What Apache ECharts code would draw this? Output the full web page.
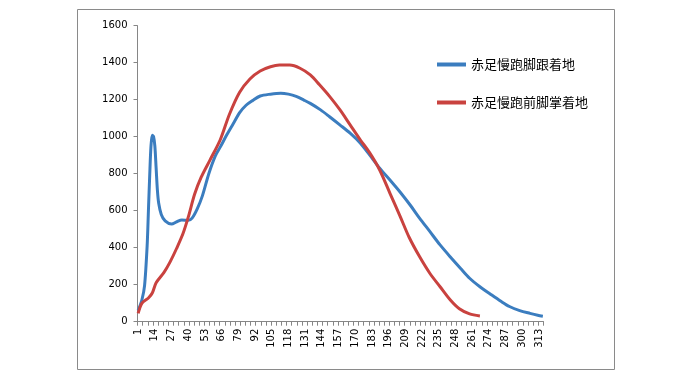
<!DOCTYPE html>
<html>
<head>
<meta charset="utf-8">
<script src="https://cdn.jsdelivr.net/npm/echarts@6/dist/echarts.min.js"></script>
<style>
html,body{margin:0;padding:0;background:#fff;}
#c{width:685px;height:380px;}
</style>
</head>
<body>
<div id="c"></div>
<script>
// Categories 1..316 (sample index on the x axis)
var categoryCount = 316;
var categories = [];
for (var i = 1; i <= categoryCount; i++) categories.push(String(i));

var seriesNames = ['赤足慢跑脚跟着地', '赤足慢跑前脚掌着地'];

// Heel strike: [category, value]
var heelX = [1, 4, 6, 8, 9, 10, 11, 12, 13, 14, 15, 16, 17, 19, 22, 27, 31, 35, 40, 43, 47, 51, 56, 61, 65, 70, 75, 80, 85, 90, 96, 104, 112, 118, 124, 130, 135, 143, 150, 158, 166, 174, 181, 189, 197, 205, 213, 220, 228, 236, 244, 252, 259, 267, 275, 283, 290, 298, 306, 312, 316];
var heelY = [60, 120, 195, 410, 600, 790, 950, 1008, 1000, 950, 830, 710, 640, 580, 545, 528, 540, 550, 548, 560, 610, 680, 800, 895, 945, 1010, 1070, 1130, 1170, 1195, 1220, 1230, 1235, 1230, 1218, 1198, 1180, 1145, 1108, 1064, 1019, 965, 903, 830, 766, 700, 628, 560, 488, 415, 350, 288, 235, 189, 150, 112, 82, 60, 45, 35, 30];

// Forefoot strike: [category, value]
var foreX = [1, 4, 9, 12, 15, 21, 26, 31, 36, 40, 45, 50, 57, 65, 72, 80, 88, 96, 104, 111, 119, 127, 135, 142, 150, 158, 166, 174, 181, 189, 197, 205, 212, 220, 228, 236, 244, 251, 259, 267];
var foreY = [45, 100, 128, 155, 210, 265, 325, 397, 478, 565, 690, 780, 875, 985, 1120, 1240, 1312, 1355, 1378, 1387, 1387, 1370, 1334, 1282, 1218, 1146, 1064, 982, 915, 820, 694, 568, 455, 352, 262, 189, 117, 70, 42, 31];

var yTicks = [0, 200, 400, 600, 800, 1000, 1200, 1400, 1600];

function pairs(xs, ys) {
  return xs.map(function (x, k) { return [String(x), ys[k]]; });
}

var colors = ['#3B7DBF', '#C9423F'];
var chart = echarts.init(document.getElementById('c'), null, {renderer: 'canvas'});
chart.setOption({
  animation: false,
  backgroundColor: '#ffffff',
  color: colors,
  textStyle: {fontFamily: 'DejaVu Sans'},
  graphic: [{
    type: 'rect',
    shape: {x: 77.5, y: 9.5, width: 537, height: 360},
    style: {fill: 'none', stroke: '#8a8a8a', lineWidth: 1},
    silent: true
  }],
  grid: {left: 137.5, top: 25.7, right: 141.5, bottom: 58.3, containLabel: false},
  legend: {
    orient: 'vertical',
    left: 437,
    top: 58,
    padding: 0,
    itemGap: 25,
    itemWidth: 29,
    itemHeight: 4,
    icon: 'rect',
    textStyle: {fontFamily: 'Noto Sans CJK SC', fontSize: 13, color: '#000'},
    data: seriesNames
  },
  xAxis: {
    type: 'category',
    data: categories,
    boundaryGap: true,
    axisLine: {lineStyle: {color: '#868686', width: 1}},
    axisTick: {show: true, interval: 3, length: 4, lineStyle: {color: '#868686'}},
    axisLabel: {interval: 12, rotate: 90, margin: 7, fontSize: 10, color: '#000', fontFamily: 'DejaVu Sans'},
    splitLine: {show: false}
  },
  yAxis: {
    type: 'value',
    min: yTicks[0],
    max: yTicks[yTicks.length - 1],
    interval: 200,
    axisLine: {show: true, lineStyle: {color: '#868686', width: 1}},
    axisTick: {show: true, length: 4, lineStyle: {color: '#868686'}},
    axisLabel: {margin: 10, fontSize: 10, color: '#000', fontFamily: 'DejaVu Sans',
      formatter: function (v) { return String(v); }},
    splitLine: {show: false}
  },
  series: [
    {
      name: seriesNames[0], type: 'line', smooth: 0.3, showSymbol: false, symbol: 'none',
      lineStyle: {width: 3, color: colors[0]},
      data: pairs(heelX, heelY)
    },
    {
      name: seriesNames[1], type: 'line', smooth: 0.3, showSymbol: false, symbol: 'none',
      lineStyle: {width: 3, color: colors[1]},
      data: pairs(foreX, foreY)
    }
  ]
});
</script>
</body>
</html>
